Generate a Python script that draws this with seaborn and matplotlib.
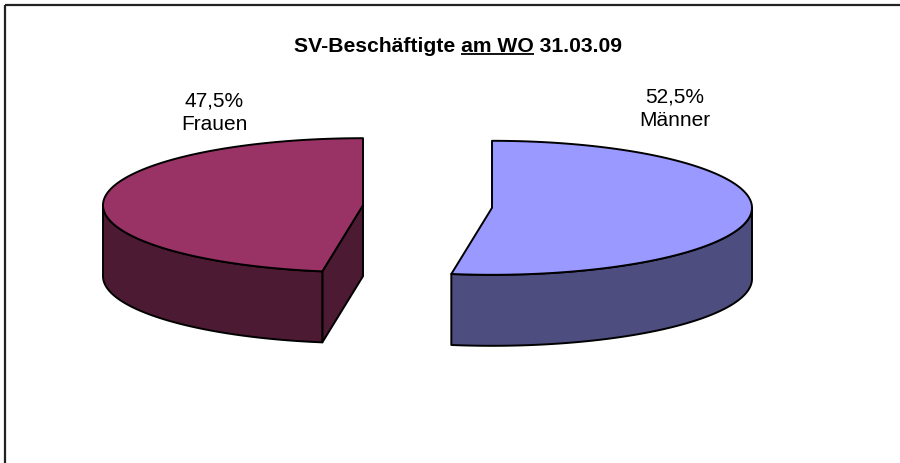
import numpy as np
import matplotlib
matplotlib.use("Agg")
import matplotlib.pyplot as plt
import seaborn as sns
from matplotlib.patches import Polygon

# Data
categories = ["Männer", "Frauen"]
shares = [52.5, 47.5]
share_labels = ["52,5%", "47,5%"]
title_text = "SV-Beschäftigte am WO 31.03.09"
title_underlined = "am WO"

sns.set_theme(style="white")
plt.rcParams["font.family"] = ["Liberation Sans", "DejaVu Sans"]

top_colors = ["#9999FF", "#993366"]
side_colors = ["#4D4D80", "#4D1A33"]
label_pos = [(675, 109), (214, 113)]

W, H = 900, 464
fig = plt.figure(figsize=(9, 4.64), dpi=100)
ax = fig.add_axes([0, 0, 1, 1])
ax.set_xlim(0, W)
ax.set_ylim(H, 0)
ax.axis("off")

# 3D pie geometry (pixel space)
cx, cy = 427.5, 207.5
rx, ry = 260.0, 67.0
depth = 71.0
explode = 64.7
edge_kw = dict(edgecolor="black", linewidth=1.4, joinstyle="round")


def pt(c, th, dz=0.0):
    t = np.radians(th)
    return (c[0] + rx * np.cos(t), c[1] - ry * np.sin(t) + dz)


def arc(c, t0, t1, dz=0.0, n=200):
    ths = np.linspace(t0, t1, n)
    return [pt(c, t, dz) for t in ths]


start = 90.0
for i, (cat, val) in enumerate(zip(categories, shares)):
    sweep = val / 100.0 * 360.0
    t_end = start
    t_start = start - sweep
    start = t_start
    mid = np.radians((t_start + t_end) / 2.0)
    c = (cx + explode * np.cos(mid), cy - explode * (ry / rx) * np.sin(mid))
    c_bot = (c[0], c[1] + depth)

    # radial cut faces facing the viewer
    for th, nrm in ((t_start, t_start - 90.0), (t_end, t_end + 90.0)):
        if np.sin(np.radians(nrm)) < -1e-6:
            face = [c, pt(c, th), pt(c, th, depth), c_bot]
            ax.add_patch(Polygon(face, closed=True, facecolor=side_colors[i], **edge_kw))

    # outer wall on the front half
    for k in (-1, 0, 1):
        lo = max(t_start, -180.0 + 360.0 * k)
        hi = min(t_end, 0.0 + 360.0 * k)
        if hi > lo:
            wall = arc(c, lo, hi) + arc(c, hi, lo, depth)
            ax.add_patch(Polygon(wall, closed=True, facecolor=side_colors[i], **edge_kw))

    # top face
    top = [c] + arc(c, t_start, t_end)
    ax.add_patch(Polygon(top, closed=True, facecolor=top_colors[i], **edge_kw))

    lx, ly = label_pos[i]
    ax.text(lx, ly, f"{share_labels[i]}\n{cat}", ha="center", va="center",
            multialignment="center", fontsize=15, color="black", linespacing=1.3)

# title with underlined part
title_x, title_y = 458, 52
t = ax.text(title_x, title_y, title_text, ha="center", va="baseline",
            fontsize=15.2, fontweight="bold", color="black")
fig.canvas.draw()
r = fig.canvas.get_renderer()


def text_width(s):
    tmp = ax.text(0, 0, s, fontsize=15.2, fontweight="bold")
    w = tmp.get_window_extent(r).width
    tmp.remove()
    return w


x0 = t.get_window_extent(r).x0
prefix = title_text[: title_text.index(title_underlined) + len(title_underlined)]
u_end = x0 + text_width(prefix)
u_start = u_end - text_width(title_underlined)
ax.plot([u_start, u_end], [title_y + 2.5, title_y + 2.5], color="black", lw=1.3,
        solid_capstyle="butt")

# chart frame (top and left edges)
ax.plot([5, W], [5.5, 5.5], color="#222222", lw=1.6, solid_capstyle="butt")
ax.plot([5, 5], [5.5, H], color="#222222", lw=1.6, solid_capstyle="butt")

fig.savefig("out.png", dpi=100, facecolor="white")
